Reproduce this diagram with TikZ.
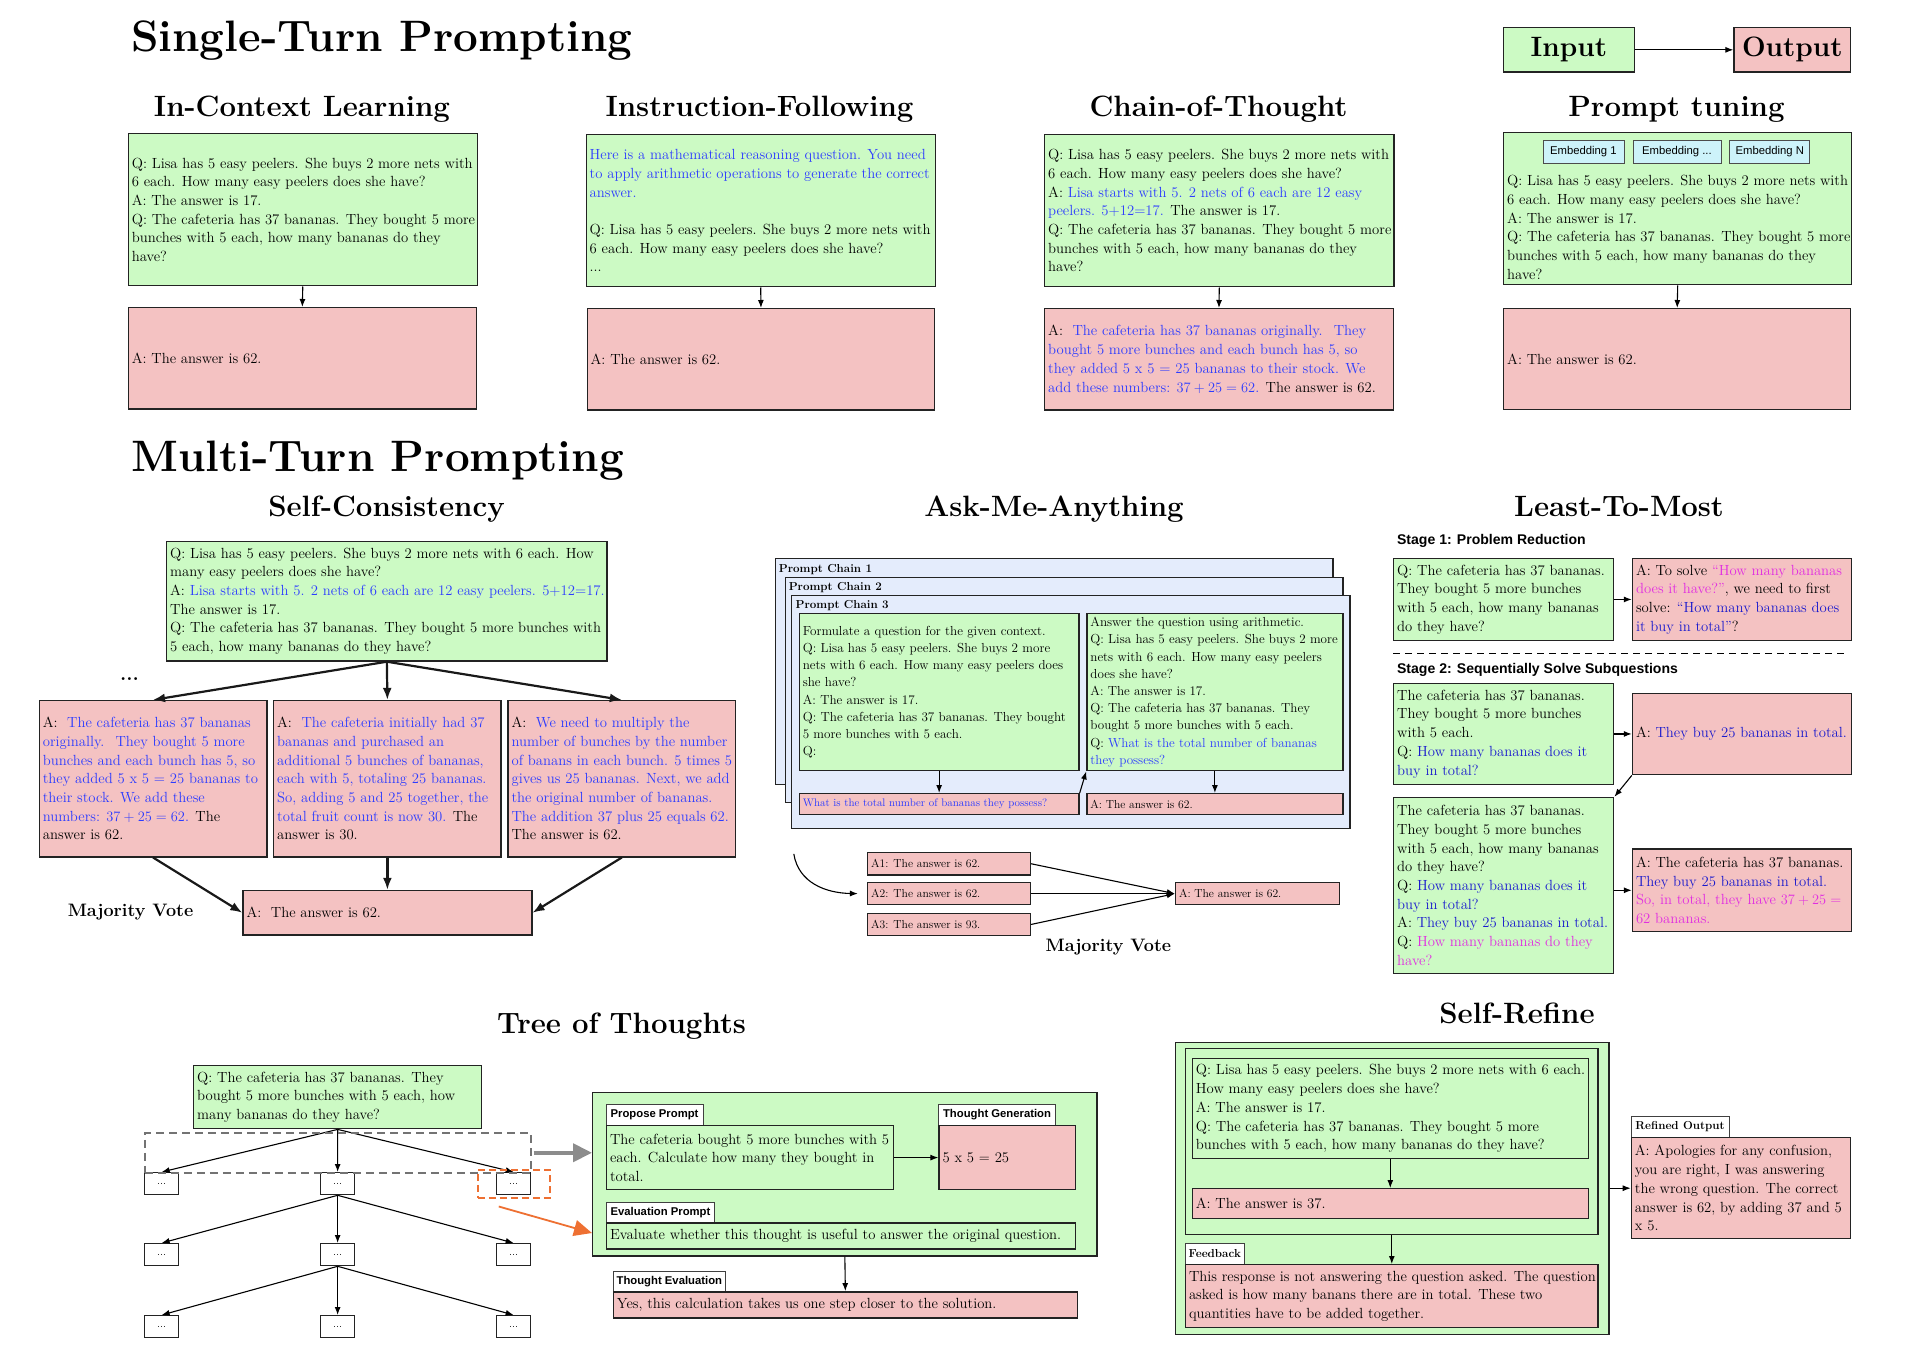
\documentclass[tikz,border=0pt]{standalone}
\usepackage{fontspec}
\newfontfamily\hv{Liberation Sans}
\usetikzlibrary{arrows.meta}
\definecolor{gfill}{RGB}{204,250,196}
\definecolor{pfill}{RGB}{244,194,194}
\definecolor{blu}{RGB}{45,60,255}
\definecolor{dblu}{RGB}{25,25,205}
\definecolor{mag}{RGB}{225,45,225}
\definecolor{lav}{RGB}{228,236,252}
\definecolor{cyn}{RGB}{205,243,250}
\definecolor{org}{RGB}{238,112,50}
\definecolor{edge}{RGB}{35,35,35}
\newcommand\bodyf{\fontsize{14.7}{18.7}\selectfont}
\newcommand\amaf{\fontsize{13.1}{17.2}\selectfont}
\newcommand\smf{\fontsize{11.6}{14}\selectfont}
\newcommand\lpf{\fontsize{10.9}{13}\selectfont}
\newcommand\ttlf{\fontsize{29.4}{34}\selectfont\bfseries}
\newcommand\bigf{\fontsize{44}{50}\selectfont\bfseries}
\newcommand\cB[1]{\textcolor{blu}{#1}}
\newcommand\cD[1]{\textcolor{dblu}{#1}}
\newcommand\cM[1]{\textcolor{mag}{#1}}
\newcommand\mkbox[8][tx]{%
  \node[#2, minimum width=#6pt, minimum height=#7pt] (#3) at (#4,#5) {};
  \node[#1] (#3t) at ([xshift=4pt]#3.west) {#8};}
\begin{document}
\begin{tikzpicture}[x=1pt,y=-1pt,
  bx/.style={draw=edge, line width=1.4pt, anchor=north west, inner sep=0pt},
  gb/.style={bx, fill=gfill},
  pb/.style={bx, fill=pfill},
  lb/.style={bx, fill=lav},
  tx/.style={anchor=west, align=left, inner sep=0pt, font=\bodyf},
  txa/.style={tx, font=\amaf},
  txs/.style={tx, font=\smf},
  txl/.style={tx, font=\lpf},
  ttl/.style={anchor=base, inner sep=0pt, font=\ttlf},
  big/.style={anchor=base west, inner sep=0pt, font=\bigf},
  tab/.style={draw=black!75, line width=0.8pt, fill=white, anchor=north west, inner sep=0pt, font=\hv\bfseries\fontsize{11.3}{12}\selectfont},
  stab/.style={tab, font=\bfseries\fontsize{11.6}{12}\selectfont},
  emb/.style={draw=black!70, line width=0.8pt, fill=cyn, anchor=north west, inner sep=0pt, minimum height=23pt, font=\hv\fontsize{11.3}{13}\selectfont},
  pcl/.style={anchor=base west, inner sep=0pt, font=\bfseries\fontsize{11.6}{13}\selectfont},
  stg/.style={anchor=base west, inner sep=0pt, font=\hv\bfseries\fontsize{14.05}{16}\selectfont},
  mv/.style={anchor=base, inner sep=0pt, font=\bfseries\fontsize{18}{20}\selectfont},
  tb/.style={draw=edge, line width=1.3pt, fill=white, anchor=north west, inner sep=0pt, minimum width=34pt, minimum height=22pt, font=\fontsize{11}{12}\selectfont},
  arr/.style={-{Latex[length=8pt,width=6pt]}, line width=1.1pt, black},
  thk/.style={-{Latex[length=12pt,width=9pt]}, line width=2.2pt, black!90}
]
\path[use as bounding box, fill=white] (0,0) rectangle (1920,1364);

% ---------------- Single-Turn ----------------
\node[big] (st) at (131,51.7) {Single-Turn Prompting};
\node[ttl] (ticl) at (302,116.2) {In-Context Learning};
\node[ttl] (tif) at (759.5,116.2) {Instruction-Following};
\node[ttl] (tcot) at (1218.5,116.2) {Chain-of-Thought};
\node[ttl] (tpt) at (1676.5,116.2) {Prompt tuning};

\node[gb, minimum width=130.5pt, minimum height=44.7pt, font=\fontsize{28}{30}\selectfont\bfseries] (inp) at (1503,26.8) {Input};
\node[pb, minimum width=116.6pt, minimum height=44.7pt, font=\fontsize{28}{30}\selectfont\bfseries] (outp) at (1733.4,26.8) {Output};
\draw[arr] (inp.east) -- (outp.west);

\mkbox{gb}{icl}{127.6}{133.1}{349}{152}{Q: Lisa has 5 easy peelers. She buys 2 more nets with\\6 each. How many easy peelers does she have?\\A: The answer is 17.\\Q: The cafeteria has 37 bananas. They bought 5 more\\bunches with 5 each, how many bananas do they\\have?}
\mkbox{pb}{iclo}{127.6}{307}{348}{101.3}{A: The answer is 62.}
\draw[arr] (icl.south) -- (iclo.north);

\mkbox{gb}{if}{585.5}{134.1}{349}{152}{\cB{Here is a mathematical reasoning question. You need}\\\cB{to apply arithmetic operations to generate the correct}\\\cB{answer.}\\[18.7pt]Q: Lisa has 5 easy peelers. She buys 2 more nets with\\6 each. How many easy peelers does she have?\\...}
\mkbox{pb}{ifo}{586.5}{308}{347.5}{101.2}{A: The answer is 62.}
\draw[arr] (if.south) -- (ifo.north);

\mkbox{gb}{cot}{1044}{134.1}{349.2}{152}{Q: Lisa has 5 easy peelers. She buys 2 more nets with\\6 each. How many easy peelers does she have?\\A: \cB{Lisa starts with 5. 2 nets of 6 each are 12 easy}\\\cB{peelers. 5+12=17.} The answer is 17.\\Q: The cafeteria has 37 bananas. They bought 5 more\\bunches with 5 each, how many bananas do they\\have?}
\mkbox{pb}{coto}{1044}{308}{348.5}{101.2}{A: \ \cB{The cafeteria has 37 bananas originally. \ They}\\\cB{bought 5 more bunches and each bunch has 5, so}\\\cB{they added 5 x 5 = 25 bananas to their stock. We}\\\cB{add these numbers: $37+25=62$.} The answer is 62.}
\draw[arr] (cot.south) -- (coto.north);

\node[gb, minimum width=348pt, minimum height=152pt] (pt) at (1503,132.1) {};
\node[emb, minimum width=81pt] (e1) at (1542.5,140) {Embedding 1};
\node[emb, minimum width=88pt] (e2) at (1632.5,140) {Embedding ...};
\node[emb, minimum width=80pt] (e3) at (1729.4,140) {Embedding N};
\node[tx] (ptt) at ([xshift=4pt,yshift=-18.5pt]pt.west) {Q: Lisa has 5 easy peelers. She buys 2 more nets with\\6 each. How many easy peelers does she have?\\A: The answer is 17.\\Q: The cafeteria has 37 bananas. They bought 5 more\\bunches with 5 each, how many bananas do they\\have?};
\mkbox{pb}{pto}{1503}{308}{347}{101}{A: The answer is 62.}
\draw[arr] (pt.south) -- (pto.north);

% ---------------- Multi-Turn ----------------
\node[big] (mt) at (131,471.4) {Multi-Turn Prompting};
\node[ttl] (tsc) at (386.5,516) {Self-Consistency};
\node[ttl] (tama) at (1054,516) {Ask-Me-Anything};
\node[ttl] (tltm) at (1619,516.7) {Least-To-Most};

% Self-Consistency
\mkbox{gb}{sc}{166}{540.7}{440.3}{119.6}{Q: Lisa has 5 easy peelers. She buys 2 more nets with 6 each. How\\many easy peelers does she have?\\A: \cB{Lisa starts with 5. 2 nets of 6 each are 12 easy peelers. 5+12=17.}\\The answer is 17.\\Q: The cafeteria has 37 bananas. They bought 5 more bunches with\\5 each, how many bananas do they have?}
\mkbox{pb}{c1}{38.6}{699.9}{227.5}{156.2}{A: \ \cB{The cafeteria has 37 bananas}\\\cB{originally. \ They bought 5 more}\\\cB{bunches and each bunch has 5, so}\\\cB{they added 5 x 5 = 25 bananas to}\\\cB{their stock. We add these}\\\cB{numbers: $37+25=62$.} The\\answer is 62.}
\mkbox{pb}{c2}{273}{699.9}{227.4}{156.2}{A: \ \cB{The cafeteria initially had 37}\\\cB{bananas and purchased an}\\\cB{additional 5 bunches of bananas,}\\\cB{each with 5, totaling 25 bananas.}\\\cB{So, adding 5 and 25 together, the}\\\cB{total fruit count is now 30.} The\\answer is 30.}
\mkbox{pb}{c3}{507.4}{699.9}{227.4}{156.2}{A: \ \cB{We need to multiply the}\\\cB{number of bunches by the number}\\\cB{of banans in each bunch. 5 times 5}\\\cB{gives us 25 bananas. Next, we add}\\\cB{the original number of bananas.}\\\cB{The addition 37 plus 25 equals 62.}\\The answer is 62.}
\mkbox{pb}{scf}{242.3}{889.8}{288.8}{44.5}{A: \ The answer is 62.}
\node[anchor=base, inner sep=0pt, font=\bfseries\fontsize{20}{22}\selectfont] (scdots) at (129.6,680) {...};
\node[mv] (scmv) at (130.5,916.5) {Majority Vote};
\draw[thk] (sc.south) -- (c1.north);
\draw[thk] (sc.south) -- (c2.north);
\draw[thk] (sc.south) -- (c3.north);
\draw[thk] (c1.south) -- (scf.west);
\draw[thk] (c2.south) -- (scf.north);
\draw[thk] (c3.south) -- (scf.east);

% Ask-Me-Anything
\node[lb, minimum width=557.5pt, minimum height=226pt] (pc1) at (774.8,558) {};
\node[pcl] (pc1l) at (778.7,572) {Prompt Chain 1};
\node[lb, minimum width=557.5pt, minimum height=225pt] (pc2) at (784.7,577) {};
\node[pcl] (pc2l) at (788.6,590) {Prompt Chain 2};
\node[lb, minimum width=558.6pt, minimum height=233pt] (pc3) at (790.6,595) {};
\node[pcl] (pc3l) at (795.4,608) {Prompt Chain 3};
\mkbox[txa]{gb}{lg}{798.6}{613}{279.7}{157}{Formulate a question for the given context.\\Q: Lisa has 5 easy peelers. She buys 2 more\\nets with 6 each. How many easy peelers does\\she have?\\A: The answer is 17.\\Q: The cafeteria has 37 bananas. They bought\\5 more bunches with 5 each.\\Q:}
\mkbox[txa]{gb}{rg}{1086.2}{613}{256}{157}{Answer the question using arithmetic.\\Q: Lisa has 5 easy peelers. She buys 2 more\\nets with 6 each. How many easy peelers\\does she have?\\A: The answer is 17.\\Q: The cafeteria has 37 bananas. They\\bought 5 more bunches with 5 each.\\Q: \cB{What is the total number of bananas}\\\cB{they possess?}}
\mkbox[txl]{pb}{lp}{798.6}{793}{279.7}{21}{\cB{What is the total number of bananas they possess?}}
\mkbox[txs]{pb}{rp}{1086.2}{793}{256}{21}{A: The answer is 62.}
\draw[arr] (lg.south) -- (lp.north);
\draw[arr] (rg.south) -- (rp.north);
\draw[arr] (lp.north east) -- (rg.south west);

\mkbox[txs]{pb}{a1}{866.9}{852}{162.8}{22.1}{A1: The answer is 62.}
\mkbox[txs]{pb}{a2}{866.9}{881.9}{162.8}{22.1}{A2: The answer is 62.}
\mkbox[txs]{pb}{a3}{866.9}{912.7}{162.8}{22.1}{A3: The answer is 93.}
\mkbox[txs]{pb}{fa}{1174.8}{881.9}{163.8}{22.1}{A: The answer is 62.}
\coordinate (amac) at (793.8,853.9);
\draw[arr] (amac) .. controls (798.5,883) and (826,893) .. ([xshift=-9pt]a2.west);
\draw[arr] (a1.east) -- (fa.west);
\draw[arr] (a2.east) -- (fa.west);
\draw[arr] (a3.east) -- (fa.west);
\node[mv] (amamv) at (1108.4,951.2) {Majority Vote};

% Least-To-Most
\node[stg] (s1l) at (1396.9,544.5) {Stage 1: Problem Reduction};
\mkbox{gb}{s1g}{1393}{557.5}{220}{82.5}{Q: The cafeteria has 37 bananas.\\They bought 5 more bunches\\with 5 each, how many bananas\\do they have?}
\mkbox{pb}{s1p}{1631.8}{557.5}{219.2}{82.5}{A: To solve \cM{``How many bananas}\\\cM{does it have?''}, we need to first\\solve: \cD{``How many bananas does}\\\cD{it buy in total''}?}
\draw[arr] (s1g.east) -- (s1p.west);
\draw[dashed, dash pattern=on 7pt off 5pt, line width=1.2pt] (1393,653.8) -- (1846,653.8);
\node[stg] (s2l) at (1396.9,673.6) {Stage 2: Sequentially Solve Subquestions};
\mkbox{gb}{s2ga}{1393}{682.6}{220}{101.3}{The cafeteria has 37 bananas.\\They bought 5 more bunches\\with 5 each.\\Q: \cD{How many bananas does it}\\\cD{buy in total?}}
\mkbox{pb}{s2pa}{1631.8}{692.5}{219.2}{81.5}{A: \cD{They buy 25 bananas in total.}}
\mkbox{gb}{s2gb}{1393}{796.8}{220}{175.7}{The cafeteria has 37 bananas.\\They bought 5 more bunches\\with 5 each, how many bananas\\do they have?\\Q: \cD{How many bananas does it}\\\cD{buy in total?}\\A: \cD{They buy 25 bananas in total.}\\Q: \cM{How many bananas do they}\\\cM{have?}}
\mkbox{pb}{s2pb}{1631.8}{848.4}{219.2}{82.4}{A: The cafeteria has 37 bananas.\\\cD{They buy 25 bananas in total.}\\\cM{So, in total, they have $37+25=$}\\\cM{62 bananas.}}
\draw[arr] (s2ga.east |- s2pa.west) -- (s2pa.west);
\draw[arr] (s2pa.south west) -- (s2gb.north east);
\draw[arr] (s2gb.east |- s2pb.west) -- (s2pb.west);

% ---------------- Tree of Thoughts ----------------
\node[ttl] (ttot) at (621.5,1033) {Tree of Thoughts};
\mkbox{gb}{tq}{193}{1065}{288}{63}{Q: The cafeteria has 37 bananas. They\\bought 5 more bunches with 5 each, how\\many bananas do they have?}
\foreach \r/\y in {1/1172,2/1243,3/1315}
  \foreach \c/\x in {1/144,2/320,3/496}
    \node[tb] (t\r\c) at (\x,\y) {...};
\foreach \c in {1,2,3} {
  \draw[arr] (tq.south) -- (t1\c.north);
  \draw[arr] (t12.south) -- (t2\c.north);
  \draw[arr] (t22.south) -- (t3\c.north);
}
\node[draw=black!55, dashed, dash pattern=on 8pt off 5pt, line width=1.5pt, anchor=north west, inner sep=0pt, minimum width=386pt, minimum height=40pt] (tsel) at (144,1132) {};
\node[draw=org, dashed, dash pattern=on 7pt off 4pt, line width=1.5pt, anchor=north west, inner sep=0pt, minimum width=72pt, minimum height=28pt] (osel) at (477,1169) {};

\node[gb, minimum width=504.3pt, minimum height=163.4pt] (panel) at (592,1091.7) {};
\draw[line width=4pt, black!45, -{Triangle[length=19pt,width=18pt]}] ([xshift=2pt]tsel.east) -- (panel.west |- tsel.east);
\coordinate (oend) at (592,1233);
\draw[org, line width=1.8pt, -{Triangle[length=18pt,width=16pt]}] ([xshift=-15pt,yshift=-8pt]osel.south) -- (oend);

\node[tab, minimum width=96.7pt, minimum height=20.5pt] (pptab) at (605.8,1104.3) {Propose Prompt};
\mkbox{gb}{ppb}{605.8}{1124.8}{287.2}{64.2}{The cafeteria bought 5 more bunches with 5\\each. Calculate how many they bought in\\total.}
\node[tab, minimum width=116.5pt, minimum height=20.5pt] (tgtab) at (938.4,1104.3) {Thought Generation};
\mkbox{pb}{tgb}{938.4}{1124.8}{136.2}{64.2}{5 x 5 $=$ 25}
\draw[arr] (ppb.east) -- (tgb.west);
\node[tab, minimum width=108.6pt, minimum height=20.5pt] (eptab) at (605.8,1201.6) {Evaluation Prompt};
\mkbox{gb}{epb}{605.8}{1222.1}{468.8}{26.2}{Evaluate whether this thought is useful to answer the original question.}
\node[tab, minimum width=112.5pt, minimum height=20.5pt] (tetab) at (612.7,1270.6) {Thought Evaluation};
\mkbox{pb}{teb}{612.7}{1291.1}{463.9}{26.3}{Yes, this calculation takes us one step closer to the solution.}
\draw[arr] (panel.south) -- (teb.north);

% ---------------- Self-Refine ----------------
\node[ttl] (tsr) at (1517,1023) {Self-Refine};
\node[gb, minimum width=433.3pt, minimum height=292pt] (srout) at (1174.9,1042) {};
\node[gb, minimum width=412.6pt, minimum height=186pt] (srin) at (1184.8,1048) {};
\mkbox{gb}{srq}{1191.7}{1058}{395.8}{100}{Q: Lisa has 5 easy peelers. She buys 2 more nets with 6 each.\\How many easy peelers does she have?\\A: The answer is 17.\\Q: The cafeteria has 37 bananas. They bought 5 more\\bunches with 5 each, how many bananas do they have?}
\mkbox{pb}{sra}{1191.7}{1188}{395.8}{30}{A: The answer is 37.}
\draw[arr] (srq.south) -- (sra.north);
\node[stab, minimum width=59.2pt, minimum height=21pt] (fbtab) at (1184.8,1243) {Feedback};
\mkbox{pb}{fb}{1184.8}{1264}{412.6}{63}{This response is not answering the question asked. The question\\asked is how many banans there are in total. These two\\quantities have to be added together.}
\draw[arr] (srin.south) -- (fb.north);
\node[stab, minimum width=97.9pt, minimum height=21pt] (reftab) at (1630.7,1116) {Refined Output};
\mkbox{pb}{ref}{1630.7}{1137}{219.3}{101}{A: Apologies for any confusion,\\you are right, I was answering\\the wrong question. The correct\\answer is 62, by adding 37 and 5\\x 5.}
\draw[arr] (srout.east |- ref.west) -- (ref.west);
\end{tikzpicture}
\end{document}
